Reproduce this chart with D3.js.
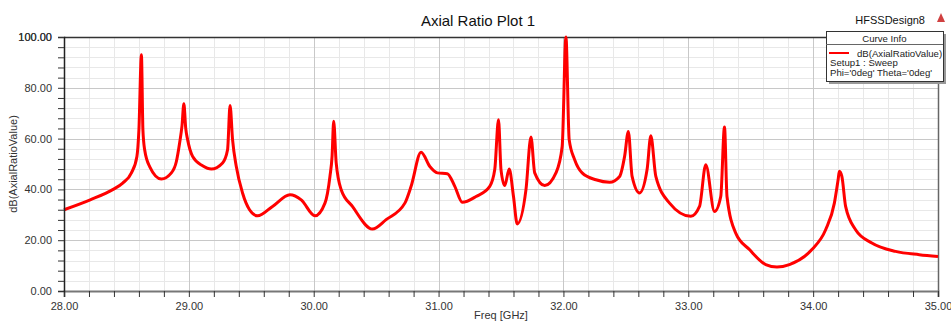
<!DOCTYPE html>
<html>
<head>
<meta charset="utf-8">
<script src="https://cdn.jsdelivr.net/npm/d3@7"></script>
<style>
  body { margin: 0; background: #fff; }
  svg text { font-family: Arial, "Liberation Sans", sans-serif; }
</style>
</head>
<body>
<svg id="chartSVG" width="951" height="324"></svg>
<script>
// frequency samples (GHz) and axial ratio (dB)
var freqs = [28.00, 28.21, 28.39, 28.47, 28.54, 28.584, 28.60, 28.62, 28.632, 28.646, 28.686, 28.78,
  28.86, 28.90, 28.926, 28.945, 28.96, 28.975, 28.99, 29.03, 29.11, 29.18, 29.27, 29.31, 29.33, 29.35, 29.38, 29.43,
  29.486, 29.55, 29.67, 29.81, 29.90, 30.01, 30.09, 30.13, 30.147, 30.16, 30.18, 30.22, 30.31,
  30.47, 30.58, 30.73, 30.78, 30.86, 30.93, 30.99, 31.07, 31.13, 31.19, 31.30, 31.41, 31.45,
  31.48, 31.50, 31.53, 31.566, 31.60, 31.63, 31.70, 31.74, 31.77, 31.85, 31.94, 31.99, 32.02,
  32.046, 32.09, 32.15, 32.26, 32.37, 32.45, 32.49, 32.52, 32.55, 32.61, 32.67, 32.70, 32.74,
  32.85, 33.02, 33.09, 33.14, 33.21, 33.26, 33.29, 33.31, 33.38, 33.49, 33.62, 33.71, 33.81,
  33.99, 34.10, 34.17, 34.20, 34.21, 34.23, 34.26, 34.34, 34.47, 34.66, 34.85, 35.00];
var axialRatio = [32.0, 35.9, 39.9, 42.5, 46.5, 53.0, 63.5, 93.0, 63.5, 55.6, 49.0, 44.1,
  46.5, 51.0, 58.3, 65.0, 73.7, 64.0, 59.6, 53.0, 49.3, 48.0, 50.4, 55.6, 73.0, 59.6, 49.0, 38.6,
  32.0, 29.6, 33.3, 37.9, 35.9, 29.6, 34.6, 45.1, 53.0, 66.8, 50.4, 39.9, 33.3,
  24.4, 28.1, 34.6, 41.2, 54.6, 49.0, 46.5, 46.2, 41.2, 34.9, 37.2, 41.2, 47.8,
  67.4, 47.8, 41.5, 48.0, 37.2, 26.4, 39.9, 60.6, 46.5, 41.5, 46.5, 56.9, 100.0,
  59.6, 51.7, 46.5, 43.8, 42.8, 45.1, 53.0, 62.8, 45.1, 38.6, 47.8, 61.1, 45.1,
  34.6, 29.4, 33.3, 49.7, 31.3, 37.2, 64.6, 37.2, 22.8, 16.3, 10.4, 9.4, 10.4,
  16.3, 24.1, 34.6, 43.8, 47.1, 45.1, 33.3, 24.1, 18.9, 15.6, 14.3, 13.6];

var xTicks = [28, 29, 30, 31, 32, 33, 34, 35];
var yTicks = [0, 20, 40, 60, 80, 100];
var legendLines = ["dB(AxialRatioValue)", "Setup1 : Sweep", "Phi='0deg' Theta='0deg'"];

var svg = d3.select("#chartSVG");
var plotL = 64, plotR = 938, plotT = 37, plotB = 291;

var x = d3.scaleLinear().domain([28, 35]).range([plotL, plotR]);
var y = d3.scaleLinear().domain([0, 100]).range([plotB, plotT]);

// grid: minor every 0.2 GHz / 4 dB, major on labelled ticks
var xMinor = d3.range(0, 36).map(function(i) { return 28 + i * 0.2; });
var yMinor = d3.range(0, 26).map(function(i) { return i * 4; });
var grid = svg.append("g");
grid.selectAll(".vx").data(xMinor).enter().append("line")
  .attr("x1", function(d) { return Math.round(x(d)) + 0.5; })
  .attr("x2", function(d) { return Math.round(x(d)) + 0.5; })
  .attr("y1", plotT).attr("y2", plotB)
  .attr("stroke", "#e8e8e8").attr("stroke-width", 1);
grid.selectAll(".hy").data(yMinor).enter().append("line")
  .attr("y1", function(d) { return Math.round(y(d)) + 0.5; })
  .attr("y2", function(d) { return Math.round(y(d)) + 0.5; })
  .attr("x1", plotL).attr("x2", plotR)
  .attr("stroke", "#e8e8e8").attr("stroke-width", 1);
grid.selectAll(".vmaj").data(xTicks).enter().append("line")
  .attr("x1", function(d) { return Math.round(x(d)) + 0.5; })
  .attr("x2", function(d) { return Math.round(x(d)) + 0.5; })
  .attr("y1", plotT).attr("y2", plotB)
  .attr("stroke", "#c8c8c8").attr("stroke-width", 1);
grid.selectAll(".hmaj").data(yTicks).enter().append("line")
  .attr("y1", function(d) { return Math.round(y(d)) + 0.5; })
  .attr("y2", function(d) { return Math.round(y(d)) + 0.5; })
  .attr("x1", plotL).attr("x2", plotR)
  .attr("stroke", "#c8c8c8").attr("stroke-width", 1);

// frame
svg.append("line").attr("x1", plotL).attr("x2", plotR).attr("y1", plotT + 0.5).attr("y2", plotT + 0.5)
  .attr("stroke", "#333").attr("stroke-width", 1.5);
svg.append("line").attr("x1", plotR + 0.5).attr("x2", plotR + 0.5).attr("y1", plotT).attr("y2", plotB)
  .attr("stroke", "#666").attr("stroke-width", 1.5);

// curve
var line = d3.line()
  .curve(d3.curveMonotoneX)
  .x(function(d, i) { return x(freqs[i]); })
  .y(function(d) { return y(d); });
svg.append("path")
  .datum(axialRatio)
  .attr("d", line)
  .attr("fill", "none")
  .attr("stroke", "#ff0000")
  .attr("stroke-width", 3)
  .attr("stroke-linejoin", "round");

// axes
var xAxis = svg.append("g").attr("transform", "translate(0," + plotB + ")")
  .call(d3.axisBottom(x).tickValues(xMinor).tickSize(6)
    .tickFormat(function(d) { return xTicks.some(function(t) { return Math.abs(t - d) < 1e-6; }) ? d.toFixed(2) : ""; }));
xAxis.select(".domain").attr("stroke", "#777").attr("stroke-width", 2);
xAxis.selectAll(".tick line").attr("stroke", "#333");
xAxis.selectAll("text").attr("fill", "#333").style("font-size", "11px").attr("dy", "0.9em");

var yAxis = svg.append("g").attr("transform", "translate(" + plotL + ",0)")
  .call(d3.axisLeft(y).tickValues(yMinor.concat([100])).tickSize(6)
    .tickFormat(function(d) { return d % 20 === 0 ? d.toFixed(2) : ""; }));
yAxis.select(".domain").attr("stroke", "#222").attr("stroke-width", 1.5);
yAxis.selectAll(".tick line").attr("stroke", "#333");
yAxis.selectAll("text").attr("fill", "#333").style("font-size", "11px").attr("x", -12);

// titles
svg.append("text").attr("x", 478).attr("y", 26).attr("text-anchor", "middle")
  .style("font-size", "15px").attr("fill", "#111").text("Axial Ratio Plot 1");
svg.append("text").attr("x", 925).attr("y", 24).attr("text-anchor", "end")
  .style("font-size", "11px").attr("fill", "#111").text("HFSSDesign8");
svg.append("path").attr("d", "M937,22 L941,13 L945,22 Z").attr("fill", "#d04040");
svg.append("text").attr("x", (plotL + plotR) / 2).attr("y", 319).attr("text-anchor", "middle")
  .style("font-size", "11px").attr("fill", "#333").text("Freq [GHz]");
svg.append("text").attr("transform", "translate(17," + ((plotT + plotB) / 2) + ") rotate(-90)")
  .attr("text-anchor", "middle").style("font-size", "11px").attr("fill", "#333")
  .text("dB(AxialRatioValue)");

// legend box
var lg = svg.append("g");
var lx = 826, ly = 31, lw = 117, lh = 50;
lg.append("rect").attr("x", lx + 3).attr("y", ly + 3).attr("width", lw).attr("height", lh).attr("fill", "#999");
lg.append("rect").attr("x", lx + 0.5).attr("y", ly + 0.5).attr("width", lw).attr("height", lh)
  .attr("fill", "#fff").attr("stroke", "#333");
lg.append("line").attr("x1", lx).attr("x2", lx + lw).attr("y1", ly + 13.5).attr("y2", ly + 13.5).attr("stroke", "#666");
lg.append("text").attr("x", lx + lw / 2).attr("y", ly + 10.5).attr("text-anchor", "middle")
  .style("font-size", "9.6px").attr("fill", "#222").text("Curve Info");
lg.append("line").attr("x1", 829).attr("x2", 849).attr("y1", 53).attr("y2", 53)
  .attr("stroke", "#ff0000").attr("stroke-width", 2);
lg.selectAll(".lt").data(legendLines).enter().append("text")
  .attr("x", function(d, i) { return i === 0 ? 857 : 830; })
  .attr("y", function(d, i) { return 56.5 + i * 9.5; })
  .style("font-size", "9.6px").attr("fill", "#222")
  .text(function(d) { return d; });
</script>
</body>
</html>
